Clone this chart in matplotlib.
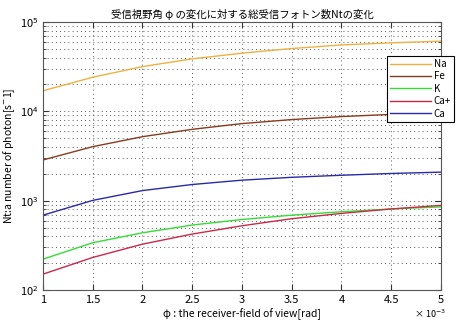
import numpy as np
import matplotlib
matplotlib.use("Agg")
import matplotlib.pyplot as plt
from matplotlib.ticker import LogLocator, NullFormatter

plt.rcParams['font.family'] = ['Noto Sans CJK JP', 'DejaVu Sans']
plt.rcParams['mathtext.fontset'] = 'dejavusans'

# receiver field of view, in units of 1e-3 rad
phi_mrad = [1.0, 1.5, 2.0, 2.5, 3.0, 3.5, 4.0, 4.5, 5.0]

# total received photon number Nt [s^-1]
na = [17000, 24100, 31700, 38700, 44800, 50500, 55400, 58500, 61000]
fe = [2860, 4030, 5210, 6300, 7300, 8100, 8750, 9250, 9600]
k = [222, 339, 438, 535, 617, 690, 753, 810, 855]
ca_plus = [151, 232, 327, 424, 525, 630, 722, 810, 888]
ca = [690, 1010, 1300, 1520, 1700, 1830, 1930, 2020, 2090]

labels = ['Na', 'Fe', 'K', 'Ca+', 'Ca']
colors = ['#f0b040', '#8a3a1c', '#33dd33', '#cc2848', '#2a2aa8']
series = [na, fe, k, ca_plus, ca]

fig = plt.figure(figsize=(4.57, 3.26), dpi=100)
ax = fig.add_axes([0.094, 0.110, 0.871, 0.8225])

for vals, lab, col in zip(series, labels, colors):
    ax.plot(phi_mrad, vals, color=col, lw=1.0, label=lab)

ax.set_yscale('log')
ax.set_xlim(1, 5)
ax.set_ylim(1e2, 1e5)
ax.set_xticks(np.arange(1, 5.01, 0.5))
ax.set_xticklabels(['1', '1.5', '2', '2.5', '3', '3.5', '4', '4.5', '5'])
ax.yaxis.set_minor_locator(LogLocator(base=10, subs=np.arange(2, 10)))
ax.yaxis.set_minor_formatter(NullFormatter())

dots = (0, (1, 4))
ax.grid(True, which='major', axis='both', color='#222222', linestyle=dots, lw=0.6)
ax.grid(True, which='minor', axis='y', color='#222222', linestyle=dots, lw=0.6)
ax.tick_params(which='both', direction='in', top=True, right=True,
               labelsize=8, colors='#333333', labelcolor='black')
ax.tick_params(which='major', length=4)
ax.tick_params(which='minor', length=2)
for sp in ax.spines.values():
    sp.set_color('#555555')
    sp.set_linewidth(0.8)

ax.set_title('受信視野角 φ の変化に対する総受信フォトン数Ntの変化', fontsize=7.5, pad=3)
ax.set_xlabel('φ : the receiver-field of view[rad]', fontsize=7.5, labelpad=2)
ax.set_ylabel('Nt:a number of photon[s$^{-}$1]', fontsize=7.5, labelpad=2)
fig.text(0.975, 0.025, '× 10$^{-3}$', fontsize=6.5, ha='right')

leg = ax.legend(loc='upper left', bbox_to_anchor=(0.864, 0.873), fontsize=7,
                handlelength=4.2, fancybox=False, framealpha=1,
                edgecolor='black', borderpad=0.3, labelspacing=0.25,
                handletextpad=0.3, borderaxespad=0)
leg.get_frame().set_linewidth(0.8)

fig.savefig('out.png', dpi=100)
